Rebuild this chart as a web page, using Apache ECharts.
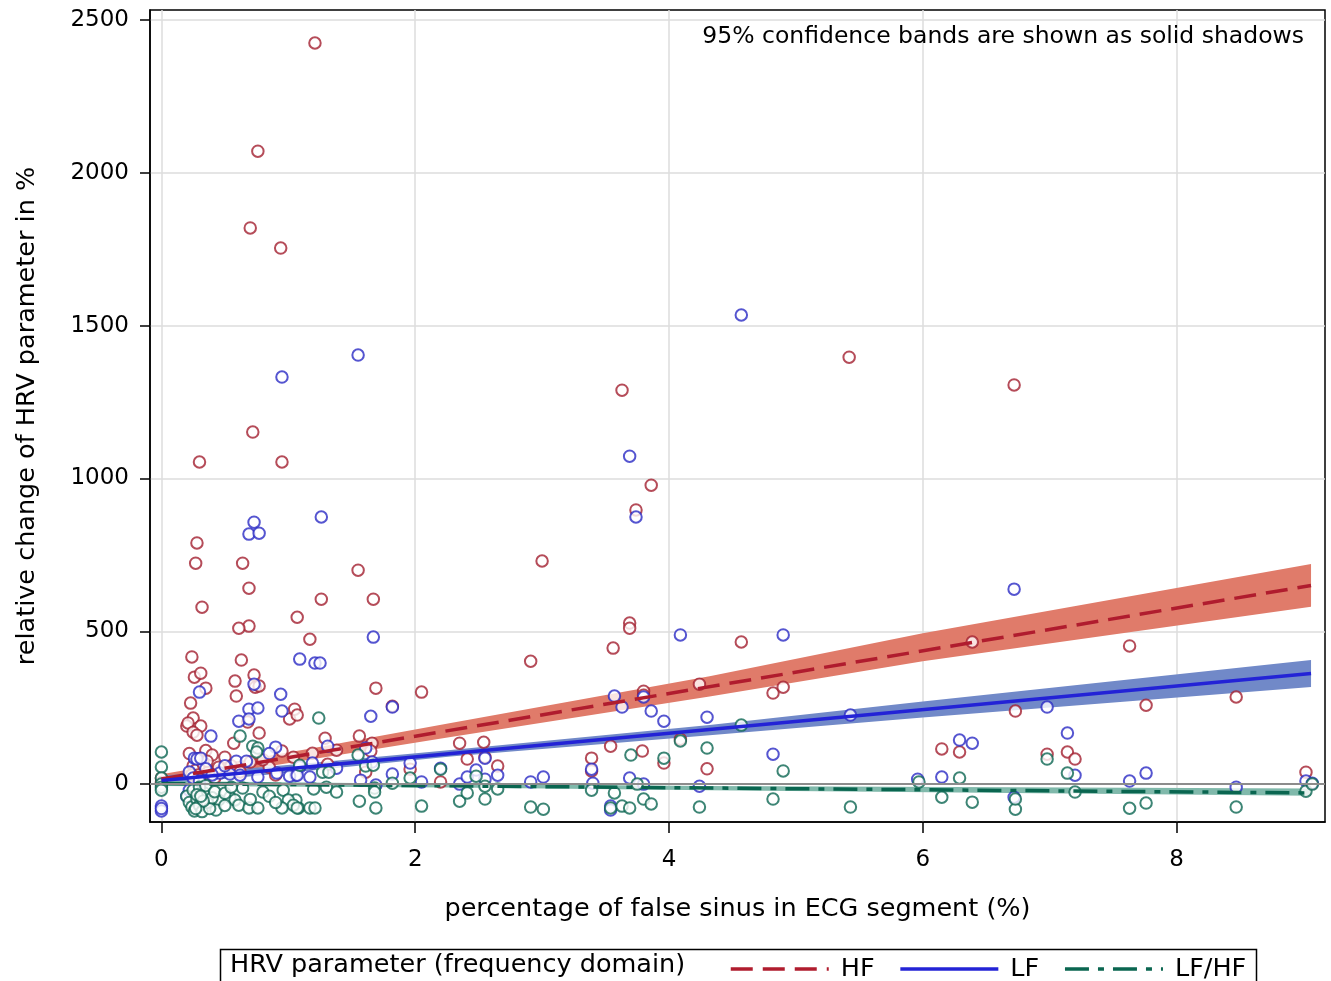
<!DOCTYPE html>
<html style="height: 100%">
<head>
	<meta charset="utf-8">
</head>
<body style="height: 100%; margin: 0; background: #fff">
<div id="container" style="width: 1331px; height: 981px"></div>
<script type="text/javascript" src="https://cdn.jsdelivr.net/npm/echarts@6/dist/echarts.min.js"></script>
<script type="text/javascript">
    // observed points: [percentage false sinus, relative change %]
    var hfPoints = [
        [1.21, 2425], [0.76, 2071], [0.70, 1820], [0.94, 1754], [0.72, 1152], [0.95, 1054], [0.30, 1054],
        [3.63, 1289], [5.42, 1397], [6.72, 1306], [3.86, 978], [3.74, 897], [0.28, 789], [0.27, 723],
        [0.64, 723], [3.00, 730], [0.32, 579], [0.69, 641], [1.55, 700], [1.67, 605], [1.26, 605],
        [1.07, 546], [0.69, 517], [0.61, 510], [3.69, 527], [3.69, 510], [3.56, 445], [4.57, 465],
        [6.39, 465], [7.63, 452], [2.91, 402], [1.17, 474], [0.24, 416], [0.63, 406], [0.26, 350],
        [0.31, 363], [0.35, 314], [0.58, 337], [0.73, 357], [0.74, 317], [0.77, 321], [0.59, 288],
        [1.69, 314], [2.05, 301], [1.82, 255], [1.01, 213], [1.05, 245], [1.07, 226], [0.23, 265],
        [0.25, 216], [0.20, 190], [0.31, 190], [0.68, 203], [3.80, 304], [3.80, 291], [4.24, 327],
        [4.82, 298], [4.90, 317], [7.76, 258], [8.47, 285], [6.73, 239],
        [2.35, 134], [2.54, 137], [2.41, 82], [2.55, 88], [2.65, 59], [3.39, 85], [3.39, 43], [3.54, 124],
        [3.79, 108], [3.96, 69], [4.09, 147], [4.30, 50], [6.15, 115], [6.29, 105], [6.98, 98], [7.14, 105],
        [7.20, 82], [9.02, 39], [1.29, 150], [1.56, 157], [1.19, 101], [1.38, 111], [1.66, 134], [1.65, 108],
        [1.31, 65], [1.61, 39], [1.96, 49], [2.20, 7], [0.21, 200], [0.25, 170], [0.28, 160], [0.57, 134],
        [0.77, 167], [0.50, 88], [0.95, 108], [1.04, 88], [0.22, 100], [0.25, 60], [0.27, 45], [0.29, 30],
        [0.31, 85], [0.33, 65], [0.35, 110], [0.37, 40], [0.40, 95], [0.42, 20], [0.24, 30], [0.30, 15],
        [0.00, 20], [0.00, 5], [0.36, 75], [0.45, 55], [0.55, 60], [0.62, 40], [0.70, 72], [0.85, 55],
        [0.90, 30], [0.80, 80]
    ];
    var lfPoints = [
        [4.57, 1535], [1.55, 1404], [0.95, 1332], [3.69, 1073], [3.74, 874], [1.26, 874], [0.73, 857],
        [0.69, 818], [0.77, 821], [4.09, 488], [4.90, 488], [1.67, 481], [6.72, 638], [1.09, 409],
        [1.21, 396], [1.25, 396], [0.30, 301], [0.73, 327], [0.94, 294], [0.95, 239], [0.69, 245],
        [0.76, 249], [0.61, 206], [0.69, 213], [1.65, 222], [1.82, 252], [3.57, 288], [3.63, 252],
        [3.80, 285], [3.86, 239], [3.96, 206], [4.30, 219], [5.43, 226], [6.98, 252], [7.14, 167],
        [4.82, 98], [6.29, 144], [6.39, 134],
        [2.35, 0], [2.41, 23], [2.48, 46], [2.55, 16], [2.55, 85], [2.65, 29], [2.91, 7], [3.01, 23],
        [3.39, 49], [3.40, 3], [3.69, 20], [3.80, 0], [3.54, -72], [3.54, -85], [4.24, -7], [5.96, 16],
        [6.15, 23], [7.20, 29], [7.63, 10], [7.76, 36], [8.47, -10], [9.02, 10], [9.07, 3], [6.72, -43],
        [1.31, 124], [1.61, 118], [1.09, 56], [1.19, 69], [1.17, 23], [1.38, 52], [1.66, 72], [1.96, 69],
        [1.82, 33], [2.20, 52], [2.05, 7], [1.57, 13], [1.69, -3], [1.06, 29],
        [0.00, -72], [0.00, -88], [0.00, -80], [0.39, 157], [0.90, 121], [0.26, 85], [0.28, 82],
        [0.31, 85], [0.59, 75], [0.67, 75], [0.46, 36], [0.54, 33], [0.62, 29], [0.76, 23], [0.91, 36],
        [1.01, 26], [1.07, 29], [0.22, 40], [0.25, 20], [0.30, 10], [0.35, 50], [0.40, 30], [0.20, -40],
        [0.22, -20], [0.85, 100], [0.50, 60]
    ];
    var ratioPoints = [
        [1.24, 216], [4.57, 193], [4.30, 118], [4.09, 141], [3.70, 95], [3.96, 85], [6.98, 82], [1.55, 95],
        [0.62, 157], [0.72, 124], [0.76, 118], [0.75, 105], [0.00, 105], [0.00, 56], [0.00, 20], [0.00, 0],
        [0.00, -10], [0.00, -20],
        [2.35, -56], [2.41, -29], [2.48, 26], [2.55, -49], [2.55, -7], [2.65, -16], [2.91, -75], [3.01, -82],
        [3.39, -20], [3.57, -29], [3.54, -78], [3.63, -72], [3.69, -78], [3.75, 0], [3.80, -49], [3.86, -65],
        [4.24, -75], [4.90, 43], [4.82, -49], [5.43, -75], [5.97, 7], [6.15, -43], [6.29, 20], [6.39, -59],
        [6.73, -82], [6.73, -49], [7.14, 36], [7.20, -26], [7.63, -79], [7.76, -62], [8.47, -75], [9.02, -23],
        [9.07, 0],
        [1.27, 39], [1.32, 39], [1.09, 62], [1.61, 59], [1.67, 62], [1.82, 3], [1.96, 20], [2.20, 49],
        [1.20, -16], [1.30, -10], [1.38, -26], [1.68, -13], [1.68, -26], [1.56, -56], [1.69, -78], [2.05, -72],
        [1.08, -78], [1.17, -78], [1.21, -78], [1.06, -52],
        [0.54, -43], [0.58, -52], [0.61, -69], [0.69, -78], [0.76, -78], [0.45, -52], [0.64, -13], [0.96, -20],
        [1.00, -52], [1.04, -69], [1.07, -78], [0.80, -26], [0.95, -78], [0.43, -85], [0.20, -40], [0.22, -60],
        [0.24, -75], [0.26, -88], [0.28, -50], [0.30, -70], [0.32, -90], [0.34, -30], [0.36, -60], [0.38, -80],
        [0.40, -45], [0.25, -20], [0.30, -10], [0.35, -5], [0.42, -25], [0.28, -35], [0.33, -55], [0.27, -80],
        [0.31, -40], [0.50, -30], [0.55, -10], [0.70, -50], [0.85, -40], [0.90, -60], [0.50, -70]
    ];

    // regression fits (end points) and 95% bands [x, lower, upper]
    var hfFit = [[0, 17], [9.06, 650]];
    var lfFit = [[0, 12], [9.06, 362]];
    var ratioFit = [[0, 2], [9.06, -29]];
    var hfBand = [[0, 2, 32], [1.2, 82, 118], [2.28, 154, 200], [4.32, 287, 353], [6, 402, 494], [9.06, 580, 720]];
    var lfBand = [[0, -3, 27], [1.2, 45, 70], [2.28, 90, 112], [4.32, 160, 193], [6, 218, 270], [9.06, 318, 406]];
    var ratioBand = [[0, -6, 10], [2.28, -11, 0], [4.32, -20, -6], [9.06, -38, -14]];

    var xTicks = [0, 2, 4, 6, 8];
    var yTicks = [0, 500, 1000, 1500, 2000, 2500];

    var FONT = 'DejaVu Sans';

    var dom = document.getElementById("container");
    var myChart = echarts.init(dom);

    function bandSeries(band, color) {
        return {
            type: 'custom',
            data: band,
            encode: {x: 0, y: [1, 2]},
            silent: true,
            z: 1,
            renderItem: function (params, api) {
                if (params.dataIndex !== 0) return null;
                var pts = [];
                band.forEach(function (b) { pts.push(api.coord([b[0], b[2]])); });
                band.slice().reverse().forEach(function (b) { pts.push(api.coord([b[0], b[1]])); });
                return {type: 'polygon', shape: {points: pts}, style: {fill: color}};
            }
        };
    }

    function scatterSeries(name, data, color) {
        return {
            type: 'scatter',
            name: name,
            data: data,
            symbol: 'emptyCircle',
            symbolSize: 11.5,
            itemStyle: {color: color, borderColor: color, borderWidth: 2.2},
            silent: true,
            z: 3
        };
    }

    function fitSeries(name, data, color, dash) {
        return {
            type: 'line',
            name: name,
            data: data,
            showSymbol: false,
            symbol: 'none',
            lineStyle: {color: color, width: 3.5, type: dash},
            itemStyle: {color: color},
            silent: true,
            z: 4
        };
    }

    var option = {
        backgroundColor: '#fff',
        animation: false,
        textStyle: {fontFamily: FONT},
        title: {
            text: '95% confidence bands are shown as solid shadows',
            right: 22,
            top: 20,
            textStyle: {fontFamily: FONT, fontSize: 23.5, fontWeight: 'normal', color: '#000'}
        },
        grid: {
            left: 150, right: 6, top: 10, bottom: 159,
            show: true, borderColor: '#000', borderWidth: 1.5
        },
        legend: {
            data: ['HF', 'LF', 'LF/HF'],
            left: 724,
            top: 951,
            itemWidth: 98,
            itemHeight: 14,
            itemGap: 24,
            itemStyle: {opacity: 0},
            lineStyle: {width: 3.5},
            textStyle: {fontFamily: FONT, fontSize: 25.5, color: '#000', padding: [0, 0, 0, 7]}
        },
        graphic: [
            {type: 'rect', left: 218, top: 947, shape: {width: 1036, height: 50},
                style: {fill: 'none', stroke: '#000', lineWidth: 1.5}, silent: true},
            {type: 'text', left: 230, top: 952,
                style: {text: 'HRV parameter (frequency domain)', font: '25.5px "DejaVu Sans"', fill: '#000'}}
        ],
        xAxis: {
            type: 'value',
            min: -0.09,
            max: 9.17,
            name: 'percentage of false sinus in ECG segment (%)',
            nameLocation: 'middle',
            nameGap: 74,
            nameTextStyle: {fontFamily: FONT, fontSize: 25.5, color: '#000'},
            axisLine: {onZero: false, lineStyle: {color: '#000', width: 1.5}},
            axisTick: {customValues: xTicks, length: 11, lineStyle: {color: '#000', width: 1.5}},
            axisLabel: {customValues: xTicks, margin: 27, fontFamily: FONT, fontSize: 23, color: '#000'},
            splitLine: {show: true, lineStyle: {color: '#dcdcdc', width: 1.5}}
        },
        yAxis: {
            type: 'value',
            min: -124,
            max: 2533,
            name: 'relative change of HRV parameter in %',
            nameLocation: 'middle',
            nameGap: 110,
            nameTextStyle: {fontFamily: FONT, fontSize: 25.5, color: '#000'},
            axisLine: {show: true, onZero: false, lineStyle: {color: '#000', width: 1.5}},
            axisTick: {show: true, customValues: yTicks, length: 10, lineStyle: {color: '#000', width: 1.5}},
            axisLabel: {
                customValues: yTicks, margin: 21, fontFamily: FONT, fontSize: 23, color: '#000',
                formatter: function (v) { return String(v); }
            },
            splitLine: {show: true, lineStyle: {color: '#dcdcdc', width: 1.5}}
        },
        series: [
            bandSeries(hfBand, '#e07b6a'),
            bandSeries(lfBand, '#7189c8'),
            bandSeries(ratioBand, '#80b9ab'),
            {
                type: 'line',
                data: [],
                silent: true,
                markLine: {
                    silent: true,
                    symbol: 'none',
                    label: {show: false},
                    lineStyle: {color: '#8c8c8c', width: 1.8, type: 'solid'},
                    data: [{yAxis: 0}]
                },
                z: 2
            },
            scatterSeries('HF points', hfPoints, '#a31f30'),
            scatterSeries('LF points', lfPoints, '#2a2ac4'),
            scatterSeries('LF/HF points', ratioPoints, '#0c6652'),
            fitSeries('HF', hfFit, '#b01c2e', [22, 10]),
            fitSeries('LF', lfFit, '#2323d6', 'solid'),
            fitSeries('LF/HF', ratioFit, '#0a6650', [24, 9, 6, 9])
        ]
    };

    myChart.setOption(option);
</script>
</body>
</html>
